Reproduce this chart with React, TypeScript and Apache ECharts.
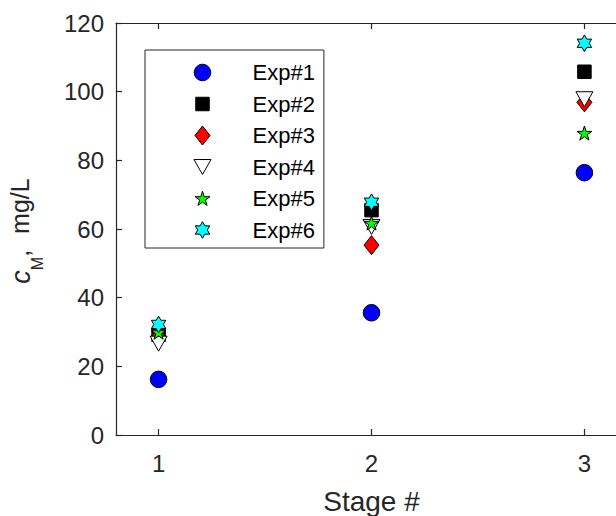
import React, { useEffect, useRef } from "react";
import * as echarts from "echarts";

// ---- data ----
const stages = [1, 2, 3];
const seriesNames = ["Exp#1", "Exp#2", "Exp#3", "Exp#4", "Exp#5", "Exp#6"];
const exp1 = [16.2, 35.6, 76.4];
const exp2 = [29.2, 65.5, 105.8];
const exp3 = [28.6, 55.3, 96.9];
const exp4 = [26.6, 60.6, 97.8];
const exp5 = [29.9, 61.7, 87.9];
const exp6 = [32.2, 67.8, 114.1];
const xTicks = [1, 2, 3];
const xLabel = "Stage #";

const FONT = "'Liberation Sans', Arial, Helvetica, sans-serif";
const AXIS = "#262626";

// ---- marker shapes (22x22 box, padded with move-to points) ----
const BOX = 22;
const PAD = `M0 0 M${BOX} ${BOX} `;
function starD(n: number, R: number, r: number, cx: number, cy: number) {
  let d = "";
  for (let i = 0; i < 2 * n; i++) {
    const a = -Math.PI / 2 + (i * Math.PI) / n;
    const rad = i % 2 === 0 ? R : r;
    d += (i === 0 ? "M" : "L") + (cx + rad * Math.cos(a)).toFixed(2) + " " + (cy + rad * Math.sin(a)).toFixed(2) + " ";
  }
  return d + "Z";
}
const circleD = "M19.3 11 A8.3 8.3 0 1 1 2.7 11 A8.3 8.3 0 1 1 19.3 11 Z";
const squareD = "M4.25 4.25 L17.75 4.25 L17.75 17.75 L4.25 17.75 Z";
const diamondD = "M11 1.5 L18.5 11 L11 20.5 L3.5 11 Z";
const triDownD = "M2.5 3.5 L19.5 3.5 L11 18.5 Z";
const pentD = starD(5, 7.8, 7.8 * 0.382, 11, 11.6);
const hexD = starD(6, 8.3, 8.3 / Math.sqrt(3), 11, 11);

const symbols = [circleD, squareD, diamondD, triDownD, pentD, hexD].map((d) => "path://" + PAD + d);
const colors = ["#0000ff", "#000000", "#ff0000", "#ffffff", "#00ff00", "#00ffff"];
const values = [exp1, exp2, exp3, exp4, exp5, exp6];

export default function App() {
  const ref = useRef<HTMLDivElement>(null);
  useEffect(() => {
    if (!ref.current) return;
    const chart = echarts.init(ref.current, undefined, { renderer: "svg" });
    const series = seriesNames.map((name, k) => ({
      name,
      type: "scatter",
      xAxisIndex: 0,
      yAxisIndex: 0,
      symbol: symbols[k],
      symbolSize: BOX,
      itemStyle: { color: colors[k], borderColor: "#000", borderWidth: 1, opacity: 1 },
      emphasis: { disabled: true },
      data: stages.map((s, i) => [s, values[k][i]]),
    }));
    chart.setOption({
      animation: false,
      backgroundColor: "#fff",
      textStyle: { fontFamily: FONT },
      grid: { left: 116, right: -11, top: 23, bottom: 81, containLabel: false, outerBoundsMode: "none" },
      legend: {
        orient: "vertical",
        left: 145,
        top: 50,
        padding: [11, 9, 6.5, 46],
        itemWidth: 90,
        itemHeight: 22,
        itemGap: 8.5,
        borderColor: AXIS,
        borderWidth: 1,
        backgroundColor: "#fff",
        textStyle: { fontSize: 22, color: "#000", fontFamily: FONT },
        itemStyle: { borderColor: "#000", borderWidth: 1 },
        selectedMode: false,
        data: seriesNames,
      },
      xAxis: [
        {
          type: "value",
          min: 0.8,
          max: 3.2,
          position: "bottom",
          axisLine: { show: true, lineStyle: { color: AXIS, width: 1.2 } },
          axisTick: { show: true, inside: true, length: 6, customValues: xTicks, lineStyle: { color: AXIS, width: 1.2 } },
          axisLabel: { show: true, customValues: xTicks, fontSize: 24, margin: 16, color: AXIS, fontFamily: FONT },
          splitLine: { show: false },
          name: xLabel,
          nameLocation: "middle",
          nameGap: 52,
          nameTextStyle: { fontSize: 28, lineHeight: 28, color: AXIS, fontFamily: FONT },
        },
        {
          type: "value",
          min: 0.8,
          max: 3.2,
          position: "top",
          axisLine: { show: true, lineStyle: { color: AXIS, width: 1.2 } },
          axisTick: { show: true, inside: true, length: 6, customValues: xTicks, lineStyle: { color: AXIS, width: 1.2 } },
          axisLabel: { show: false },
          splitLine: { show: false },
        },
      ],
      yAxis: {
        type: "value",
        min: 0,
        max: 120,
        interval: 20,
        axisLine: { show: true, lineStyle: { color: AXIS, width: 1.2 } },
        axisTick: { show: true, inside: true, length: 6, lineStyle: { color: AXIS, width: 1.2 } },
        axisLabel: { fontSize: 24, margin: 12, color: AXIS, fontFamily: FONT },
        splitLine: { show: false },
        name: "{i|c}{s|M}{n|,}{m|mg/L}",
        nameLocation: "middle",
        nameRotate: 90,
        nameGap: 81,
        nameTextStyle: {
          color: AXIS,
          rich: {
            i: { fontSize: 27, fontStyle: "italic", lineHeight: 28, verticalAlign: "top", color: AXIS, fontFamily: FONT },
            s: { fontSize: 16, lineHeight: 16, padding: [22.9, 0, 0, 0], verticalAlign: "top", color: AXIS, fontFamily: FONT },
            n: { fontSize: 25, lineHeight: 28, verticalAlign: "top", color: AXIS, fontFamily: FONT },
            m: { fontSize: 25, lineHeight: 28, verticalAlign: "top", padding: [0, 4, 0, 16], color: AXIS, fontFamily: FONT },
          },
        },
      },
      series,
    });
    return () => chart.dispose();
  }, []);
  return <div ref={ref} style={{ position: "absolute", left: 0, top: 0, width: 616, height: 516 }} />;
}
